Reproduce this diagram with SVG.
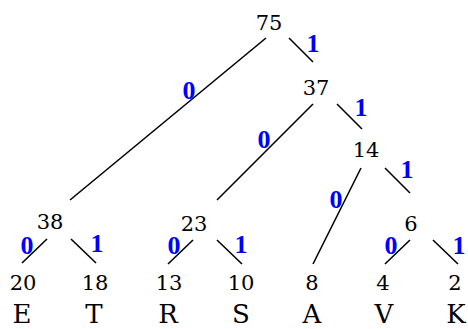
<svg xmlns="http://www.w3.org/2000/svg" width="468" height="329" viewBox="0 0 468 329">
<style>
.n{font-family:"DejaVu Serif",serif;font-size:21px;fill:#000;text-anchor:middle}
.l{font-family:"DejaVu Serif",serif;font-size:26px;fill:#000;text-anchor:middle}
.b{font-family:"Liberation Serif","Times New Roman",serif;font-size:26px;font-weight:700;fill:#0000ff;text-anchor:middle}
.e line{stroke:#000;stroke-width:1.6}
</style>
<rect width="468" height="329" fill="#fff"/>
<g id="connectors" class="e">
<line x1="266" y1="38" x2="70" y2="200"/>
<line x1="289" y1="38" x2="313" y2="62"/>
<line x1="313" y1="104" x2="217" y2="200"/>
<line x1="337" y1="104" x2="362" y2="129"/>
<line x1="361" y1="168" x2="313" y2="264"/>
<line x1="385" y1="168" x2="410" y2="193"/>
<line x1="47" y1="239" x2="22" y2="263"/>
<line x1="71" y1="239" x2="96" y2="263"/>
<line x1="193" y1="240" x2="168" y2="264"/>
<line x1="217" y1="240" x2="242" y2="264"/>
<line x1="410" y1="240" x2="385" y2="264"/>
<line x1="433" y1="240" x2="458" y2="264"/>
</g>
<g id="edge-labels">
<text class="b" x="313" y="52">1</text>
<text class="b" x="189" y="99">0</text>
<text class="b" x="361" y="116">1</text>
<text class="b" x="264" y="148">0</text>
<text class="b" x="407" y="178">1</text>
<text class="b" x="336" y="208">0</text>
<text class="b" x="27" y="254">0</text>
<text class="b" x="97" y="252">1</text>
<text class="b" x="174" y="254">0</text>
<text class="b" x="241" y="253">1</text>
<text class="b" x="391" y="254">0</text>
<text class="b" x="459" y="254">1</text>
</g>
<g id="n75"><text class="n" x="269" y="30">75</text></g>
<g id="n37"><text class="n" x="316" y="95">37</text></g>
<g id="n14"><text class="n" x="366" y="157">14</text></g>
<g id="n38"><text class="n" x="50" y="229">38</text></g>
<g id="n23"><text class="n" x="194" y="231">23</text></g>
<g id="n6"><text class="n" x="411" y="231">6</text></g>
<g id="leafE"><text class="n" x="23" y="290">20</text><text class="l" x="22" y="323">E</text></g>
<g id="leafT"><text class="n" x="95" y="290">18</text><text class="l" x="94" y="323">T</text></g>
<g id="leafR"><text class="n" x="169" y="290">13</text><text class="l" x="168" y="323">R</text></g>
<g id="leafS"><text class="n" x="241" y="290">10</text><text class="l" x="241" y="323">S</text></g>
<g id="leafA"><text class="n" x="312" y="290">8</text><text class="l" x="312" y="323">A</text></g>
<g id="leafV"><text class="n" x="383" y="290">4</text><text class="l" x="384" y="323">V</text></g>
<g id="leafK"><text class="n" x="455" y="290">2</text><text class="l" x="456" y="323">K</text></g>
</svg>
